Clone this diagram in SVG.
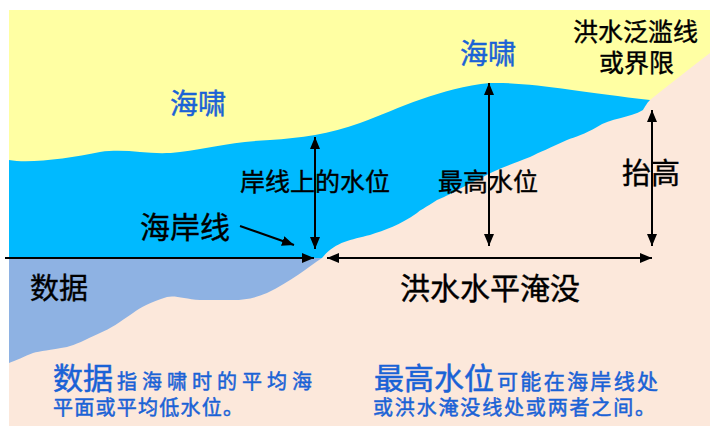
<svg xmlns="http://www.w3.org/2000/svg" width="710" height="426" viewBox="0 0 710 426">
  <style>
    .lbl { font-family: "Noto Sans CJK SC", "Noto Sans", sans-serif; fill: #000000; stroke: #000000; stroke-width: 0.4; }
    .blue { font-family: "Noto Sans CJK SC", "Noto Sans", sans-serif; fill: #1A62D6; stroke: #1A62D6; stroke-width: 0.5; }
    .conn { stroke: #000000; stroke-width: 2; fill: none; }
  </style>
  <defs>
    <marker id="tip" viewBox="0 0 12 10" refX="12" refY="5" markerWidth="12" markerHeight="10" markerUnits="userSpaceOnUse" orient="auto-start-reverse">
      <path d="M0,0 L12,5 L0,10 Z" fill="#000000"/>
    </marker>
  </defs>

  <rect width="710" height="426" fill="#FFFFFF"/>

  <!-- sky -->
  <rect id="sky" x="9" y="10" width="701" height="416" fill="#FFFFA3"/>

  <!-- tsunami water -->
  <path id="water" fill="#00BAFF" d="M9,160 C30,164 70,158 100,152 C130,148 150,156 180,152 C210,148 230,142 270,140 C300,138 330,134 360,123 C400,108 440,88 490,83 C530,82 580,92 650,100 L710,100 L710,258 L9,258 Z"/>

  <!-- zone below datum -->
  <rect id="datum-zone" x="9" y="258" width="330" height="120" fill="#8EB2E3"/>

  <!-- land -->
  <path id="land" fill="#FCE8DB" d="M710,53 C690,68 670,84 650,100 C646,104 645,107 643,110 C630,118 610,118 597,127 C585,134 575,137 567,140 C550,148 540,152 530,157 C510,165 495,170 483,177 C460,188 450,195 437,200 C425,208 420,210 417,213 C400,225 385,230 370,235 C350,240 335,242 322,258 C310,266 290,282 267,293 C255,298 245,300 233,300 L200,300 C185,299 175,295 167,297 C150,302 140,308 133,313 C120,322 110,329 100,333 C85,340 75,345 67,347 C50,350 40,351 33,353 C25,356 15,361 9,363 L9,426 L710,426 Z"/>

  <!-- connectors -->
  <g id="connectors">
    <line class="conn" x1="315" y1="137" x2="315" y2="249" marker-start="url(#tip)" marker-end="url(#tip)"/>
    <line class="conn" x1="489" y1="83" x2="489" y2="246" marker-start="url(#tip)" marker-end="url(#tip)"/>
    <line class="conn" x1="652" y1="110" x2="652" y2="246" marker-start="url(#tip)" marker-end="url(#tip)"/>
    <line class="conn" x1="5" y1="258" x2="314" y2="258" marker-end="url(#tip)"/>
    <line class="conn" x1="327" y1="258" x2="652" y2="258" marker-start="url(#tip)" marker-end="url(#tip)"/>
    <line class="conn" x1="240" y1="226" x2="294" y2="245" marker-end="url(#tip)"/>
  </g>

  <!-- labels -->
  <g id="tsunami-left"><text class="blue" x="170" y="114" font-size="28">海啸</text></g>
  <g id="tsunami-right"><text class="blue" x="460" y="64" font-size="28">海啸</text></g>
  <g id="flood-limit">
    <text class="lbl" x="573" y="41" font-size="25">洪水泛滥线</text>
    <text class="lbl" x="599" y="72" font-size="25">或界限</text>
  </g>
  <g id="height-above-shore"><text class="lbl" x="240" y="191" font-size="25">岸线上的水位</text></g>
  <g id="max-level"><text class="lbl" x="438" y="191" font-size="25">最高水位</text></g>
  <g id="elevation"><text class="lbl" x="622" y="184" font-size="29">抬高</text></g>
  <g id="shoreline"><text class="lbl" x="140" y="238" font-size="30">海岸线</text></g>
  <g id="datum"><text class="lbl" x="30" y="299" font-size="29">数据</text></g>
  <g id="inundation"><text class="lbl" x="400" y="299" font-size="30">洪水水平淹没</text></g>

  <g id="note-datum">
    <text class="blue" x="53" y="389" font-size="30">数据</text>
    <text class="blue" x="117" y="389" font-size="20" textLength="195" lengthAdjust="spacing">指海啸时的平均海</text>
    <text class="blue" x="53" y="415" font-size="20" textLength="190" lengthAdjust="spacing">平面或平均低水位。</text>
  </g>
  <g id="note-max">
    <text class="blue" x="374" y="389" font-size="30">最高水位</text>
    <text class="blue" x="497" y="389" font-size="21" textLength="161" lengthAdjust="spacing">可能在海岸线处</text>
    <text class="blue" x="373" y="415" font-size="20" textLength="282" lengthAdjust="spacing">或洪水淹没线处或两者之间。</text>
  </g>
</svg>
